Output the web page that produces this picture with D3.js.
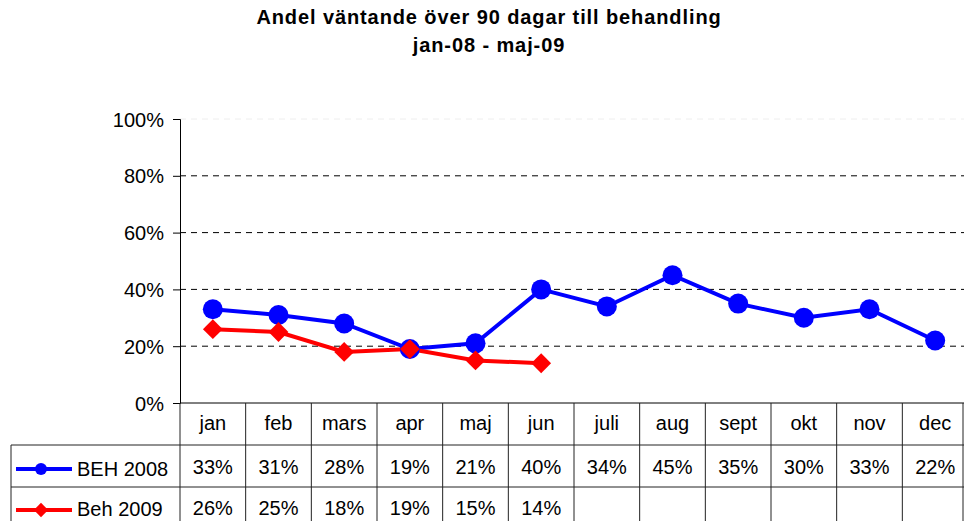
<!DOCTYPE html>
<html>
<head>
<meta charset="utf-8">
<script src="https://cdn.jsdelivr.net/npm/d3@7"></script>
<style>
  body { margin: 0; background: #fff; }
  svg { font-family: "Liberation Sans", Arial, sans-serif; }
</style>
</head>
<body>
<svg width="964" height="521"></svg>
<script>
// Data
var months = ["jan", "feb", "mars", "apr", "maj", "jun", "juli", "aug", "sept", "okt", "nov", "dec"];
var beh2008 = [33, 31, 28, 19, 21, 40, 34, 45, 35, 30, 33, 22];
var beh2009 = [26, 25, 18, 19, 15, 14];
var yTicks = [0, 20, 40, 60, 80, 100];

var svg = d3.select("svg");

var pLeft = 180, pRight = 968, pTop = 119, pBottom = 403;

var x = d3.scaleBand().domain(months).range([pLeft, pRight]);
var y = d3.scaleLinear().domain([0, 100]).range([pBottom, pTop]);
function cx(i) { return x(months[i]) + x.bandwidth() / 2; }

// title
svg.append("text")
    .attr("x", 489).attr("y", 24)
    .attr("text-anchor", "middle")
    .attr("font-size", 20).attr("font-weight", "bold").attr("letter-spacing", 0.9)
    .text("Andel väntande över 90 dagar till behandling");
svg.append("text")
    .attr("x", 489).attr("y", 52)
    .attr("text-anchor", "middle")
    .attr("font-size", 20).attr("font-weight", "bold").attr("letter-spacing", 0.9)
    .text("jan-08 - maj-09");

// gridlines
svg.append("g").selectAll("line")
    .data(yTicks.filter(function (d) { return d > 0; }))
    .enter().append("line")
    .attr("x1", pLeft).attr("x2", pRight)
    .attr("y1", function (d) { return y(d); })
    .attr("y2", function (d) { return y(d); })
    .attr("stroke", function (d) { return d == 100 ? "#eee" : "#000"; })
    .attr("stroke-dasharray", "6,5");

// y axis
var yAxis = svg.append("g")
    .attr("transform", "translate(" + pLeft + ",0)")
    .call(d3.axisLeft(y).tickValues(yTicks).tickSize(7).tickPadding(9)
        .tickFormat(function (d) { return d + "%"; }));
yAxis.select(".domain").attr("stroke", "#000");
yAxis.selectAll(".tick line").attr("stroke", "#000");
yAxis.selectAll("text").attr("font-size", 20).attr("font-family", "Liberation Sans, Arial, sans-serif")
    .attr("fill", "#000").attr("dy", "0.35em");

// table
var rowY = [pBottom, 445, 487];
var tbl = svg.append("g").attr("stroke", "#222").attr("stroke-width", 1);
tbl.append("line").attr("x1", pLeft).attr("x2", pRight).attr("y1", pBottom).attr("y2", pBottom).attr("stroke", "#000");
tbl.append("line").attr("x1", 11).attr("x2", pRight).attr("y1", rowY[1]).attr("y2", rowY[1]);
tbl.append("line").attr("x1", 11).attr("x2", pRight).attr("y1", rowY[2]).attr("y2", rowY[2]);
tbl.append("line").attr("x1", 11).attr("x2", 11).attr("y1", rowY[1]).attr("y2", 521);
tbl.selectAll(".vl")
    .data(months)
    .enter().append("line")
    .attr("x1", function (d) { return x(d); })
    .attr("x2", function (d) { return x(d); })
    .attr("y1", pBottom).attr("y2", 521);
tbl.append("line").attr("x1", pRight - 5).attr("x2", pRight - 5).attr("y1", pBottom).attr("y2", 521);

svg.append("g").selectAll("text")
    .data(months)
    .enter().append("text")
    .attr("x", function (d, i) { return cx(i); })
    .attr("y", 430)
    .attr("text-anchor", "middle").attr("font-size", 20)
    .text(function (d) { return d; });

function rowText(vals, yy) {
    svg.append("g").selectAll("text")
        .data(vals)
        .enter().append("text")
        .attr("x", function (d, i) { return cx(i); })
        .attr("y", yy)
        .attr("text-anchor", "middle").attr("font-size", 20)
        .text(function (d) { return d + "%"; });
}
rowText(beh2008, 474);
rowText(beh2009, 515);

// lines
var line = d3.line()
    .x(function (d, i) { return cx(i); })
    .y(function (d) { return y(d); });

svg.append("path").datum(beh2008)
    .attr("d", line).attr("fill", "none")
    .attr("stroke", "#0000ff").attr("stroke-width", 4);
svg.append("path").datum(beh2009)
    .attr("d", line).attr("fill", "none")
    .attr("stroke", "#ff0000").attr("stroke-width", 4);

svg.append("g").selectAll("circle")
    .data(beh2008)
    .enter().append("circle")
    .attr("cx", function (d, i) { return cx(i); })
    .attr("cy", function (d) { return y(d); })
    .attr("r", 10).attr("fill", "#0000ff");

var diamond = d3.symbol().type(d3.symbolDiamond2).size(250);
svg.append("g").selectAll("path")
    .data(beh2009)
    .enter().append("path")
    .attr("d", diamond)
    .attr("transform", function (d, i) {
        return "translate(" + cx(i) + "," + y(d) + ")";
    })
    .attr("fill", "#ff0000");

// legend keys in table
var lg = svg.append("g");
lg.append("line").attr("x1", 16).attr("x2", 72).attr("y1", 469).attr("y2", 469)
    .attr("stroke", "#0000ff").attr("stroke-width", 4);
lg.append("circle").attr("cx", 41).attr("cy", 469).attr("r", 6).attr("fill", "#0000ff");
lg.append("text").attr("x", 77).attr("y", 476).attr("font-size", 20).text("BEH 2008");
lg.append("line").attr("x1", 16).attr("x2", 72).attr("y1", 510).attr("y2", 510)
    .attr("stroke", "#ff0000").attr("stroke-width", 4);
lg.append("path").attr("d", d3.symbol().type(d3.symbolDiamond2).size(130))
    .attr("transform", "translate(41,510)").attr("fill", "#ff0000");
lg.append("text").attr("x", 77).attr("y", 516).attr("font-size", 20).text("Beh 2009");
</script>
</body>
</html>
